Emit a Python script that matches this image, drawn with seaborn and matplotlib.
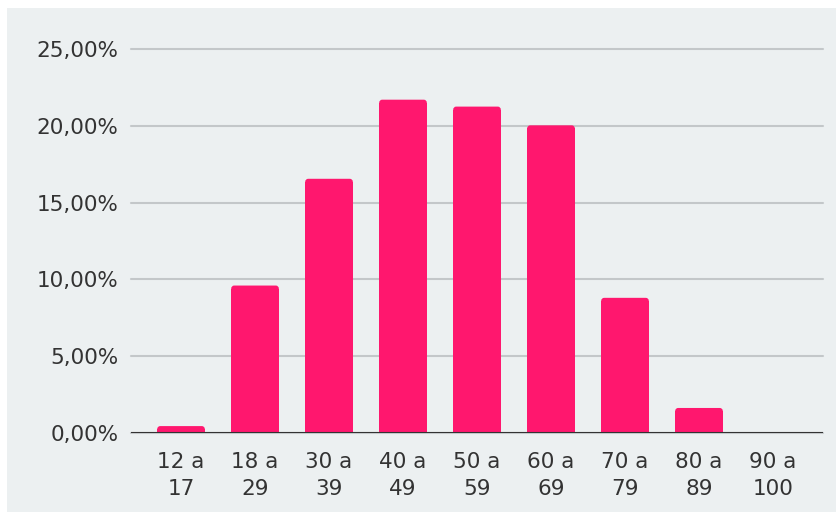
import matplotlib
matplotlib.use("Agg")
import matplotlib.pyplot as plt
import seaborn as sns
import pandas as pd
from matplotlib.patches import Rectangle, FancyBboxPatch
from matplotlib.ticker import FuncFormatter, MultipleLocator

# Age groups and share of respondents (%)
age_groups = ["12 a\n17", "18 a\n29", "30 a\n39", "40 a\n49", "50 a\n59",
              "60 a\n69", "70 a\n79", "80 a\n89", "90 a\n100"]
shares = [0.45, 9.6, 16.55, 21.7, 21.25, 20.03, 8.8, 1.63, 0.0]

df = pd.DataFrame({"faixa": age_groups, "pct": shares})

BG = "#ECF0F1"
BAR = "#FF176E"
TEXT = "#333333"

sns.set_theme(style="white")
plt.rcParams["font.family"] = ["DejaVu Sans"]

fig = plt.figure(figsize=(8.37, 5.12), dpi=100, facecolor="white")
fig.patches.append(Rectangle((7 / 837, 0), 1, 1 - 8 / 512, transform=fig.transFigure,
                             facecolor=BG, edgecolor="none", zorder=-10))

W, H = 837, 512
ax = fig.add_axes([131 / W, 1 - 433 / H, (823 - 131) / W, (433 - 49) / H])
ax.set_facecolor("none")

sns.barplot(data=df, x="faixa", y="pct", color=BAR, saturation=1,
            width=0.643, linewidth=0, ax=ax, zorder=3)

ax.set_ylim(0, 25)
ax.set_xlim(-0.676, len(age_groups) - 1 + 0.676)

# Give the bars slightly rounded top corners
x_per_px = (ax.get_xlim()[1] - ax.get_xlim()[0]) / (823 - 131)
y_per_px = 25 / (433 - 49)
r_px = 3.0
rx, ry = r_px * x_per_px, r_px * y_per_px
for p in list(ax.patches):
    x0, w, h = p.get_x(), p.get_width(), p.get_height()
    if h <= 0:
        continue
    p.set_visible(False)
    top = FancyBboxPatch((x0, 0), w, h,
                         boxstyle=f"round,pad=0,rounding_size={rx}",
                         mutation_aspect=ry / rx,
                         facecolor=BAR, edgecolor="none", zorder=3)
    ax.add_patch(top)
    low_h = max(h - ry, 0)
    if low_h > 0:
        ax.add_patch(Rectangle((x0, 0), w, low_h, facecolor=BAR,
                               edgecolor="none", zorder=3))

ax.yaxis.set_major_locator(MultipleLocator(5))
ax.yaxis.set_major_formatter(FuncFormatter(lambda v, _: f"{v:.2f}".replace(".", ",") + "%"))

ax.grid(axis="y", color="#C3C7C9", linewidth=1.5, zorder=0)
ax.grid(axis="x", visible=False)
for gl in ax.get_ygridlines():
    gl.set_clip_on(False)
ax.axhline(0, color="#333333", linewidth=1.5, zorder=4)

for s in ax.spines.values():
    s.set_visible(False)

ax.tick_params(axis="both", length=0, labelsize=15.5, labelcolor=TEXT)
ax.tick_params(axis="y", pad=9)
ax.tick_params(axis="x", pad=14)
for lbl in ax.get_xticklabels():
    lbl.set_linespacing(1.42)

ax.set_xlabel("")
ax.set_ylabel("")

fig.savefig("out.png", dpi=100, facecolor="white")
